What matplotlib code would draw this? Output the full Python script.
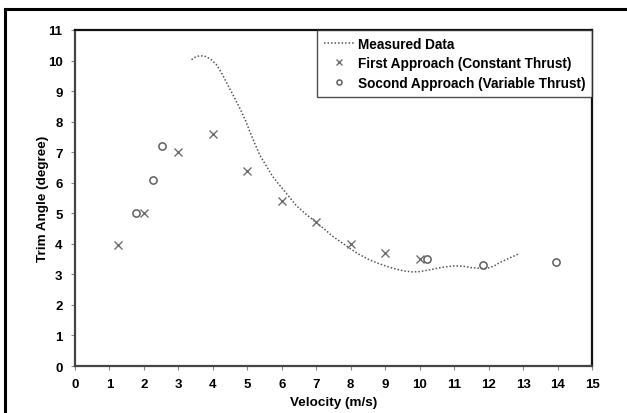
import matplotlib
matplotlib.use("Agg")
import matplotlib.pyplot as plt
from matplotlib.lines import Line2D

plt.rcParams['font.family'] = ['Liberation Sans', 'DejaVu Sans']
plt.rcParams['font.weight'] = 'bold'

# Measured trim angle curve
measured_v = [3.38, 3.5, 3.63, 3.8, 3.95, 4.1, 4.25, 4.44, 4.62, 4.79, 4.95, 5.08, 5.22,
              5.37, 5.55, 5.72, 5.9, 6.07, 6.25, 6.42, 6.7, 7.0, 7.25, 7.46, 7.75, 8.0,
              8.25, 8.5, 8.75, 9.0, 9.25, 9.55, 9.8, 10.0, 10.3, 10.6, 10.85, 11.05, 11.3,
              11.5, 11.7, 11.93, 12.15, 12.33, 12.6, 12.85]
measured_trim = [10.03, 10.12, 10.16, 10.13, 10.03, 9.87, 9.6, 9.18, 8.8, 8.42, 8.03, 7.65,
                 7.27, 6.89, 6.55, 6.23, 5.97, 5.74, 5.49, 5.25, 4.97, 4.7, 4.47, 4.26,
                 4.03, 3.83, 3.65, 3.5, 3.38, 3.28, 3.19, 3.11, 3.08, 3.09, 3.15, 3.22,
                 3.26, 3.28, 3.26, 3.22, 3.2, 3.19, 3.27, 3.39, 3.53, 3.66]

# First approach (constant thrust)
first_v = [1.25, 2.0, 3.0, 4.0, 5.0, 6.0, 7.0, 8.0, 9.0, 10.0]
first_trim = [3.96, 5.0, 7.0, 7.6, 6.4, 5.4, 4.7, 4.0, 3.7, 3.5]

# Second approach (variable thrust)
second_v = [1.77, 2.27, 2.52, 10.22, 11.84, 13.96]
second_trim = [5.0, 6.1, 7.2, 3.5, 3.3, 3.4]

x_ticks = list(range(0, 16))
y_ticks = list(range(0, 12))

fig = plt.figure(figsize=(6.27, 4.14), dpi=100)
ax = fig.add_axes([75 / 627, 1 - 367 / 414, (592 - 75) / 627, (367 - 31) / 414])

ax.plot(measured_v, measured_trim, linestyle=(0, (1, 1.3)), color='#555555', lw=1.1,
        label='Measured Data')
ax.plot(first_v, first_trim, linestyle='none', marker='x', color='#6e6e6e', ms=6, mew=1.0,
        label='First Approach (Constant Thrust)')
ax.plot(second_v, second_trim, linestyle='none', marker='o', mfc='none', mec='#5e5e5e',
        ms=5.2, mew=1.1, label='Socond Approach (Variable Thrust)')

ax.set_xlim(0, 15)
ax.set_ylim(0, 11)
ax.set_xticks(x_ticks)
ax.set_yticks(y_ticks)
ax.tick_params(axis='both', direction='out', length=3, width=0.8, color='#888888',
               labelsize=9.5, pad=6)
for lab in ax.get_xticklabels() + ax.get_yticklabels():
    lab.set_fontweight('bold')

for side in ('top', 'right'):
    ax.spines[side].set_color('#111111')
    ax.spines[side].set_linewidth(1.6)
for side in ('left', 'bottom'):
    ax.spines[side].set_color('#444444')
    ax.spines[side].set_linewidth(1.6)

ax.set_xlabel('Velocity (m/s)', fontsize=9.7, fontweight='bold', labelpad=4)
ax.set_ylabel('Trim Angle (degree)', fontsize=9.7, fontweight='bold', labelpad=-1)

leg = ax.legend(loc='upper right', bbox_to_anchor=(1.0, 1.0), borderaxespad=0,
                frameon=True, fancybox=False, handlelength=2.2, markerscale=0.7,
                handletextpad=0.3, borderpad=0.5, labelspacing=0.4,
                prop={'weight': 'bold', 'size': 9.8})
leg.get_frame().set_edgecolor('#222222')
leg.get_frame().set_linewidth(1.0)

# figure frame: left and top edges
fig.add_artist(Line2D([5 / 627, 5 / 627], [0, 1 - 10 / 414], transform=fig.transFigure,
                      color='black', lw=2.2))
fig.add_artist(Line2D([5 / 627, 1], [1 - 10 / 414, 1 - 10 / 414], transform=fig.transFigure,
                      color='black', lw=2.2))

fig.savefig('out.png', dpi=100)
